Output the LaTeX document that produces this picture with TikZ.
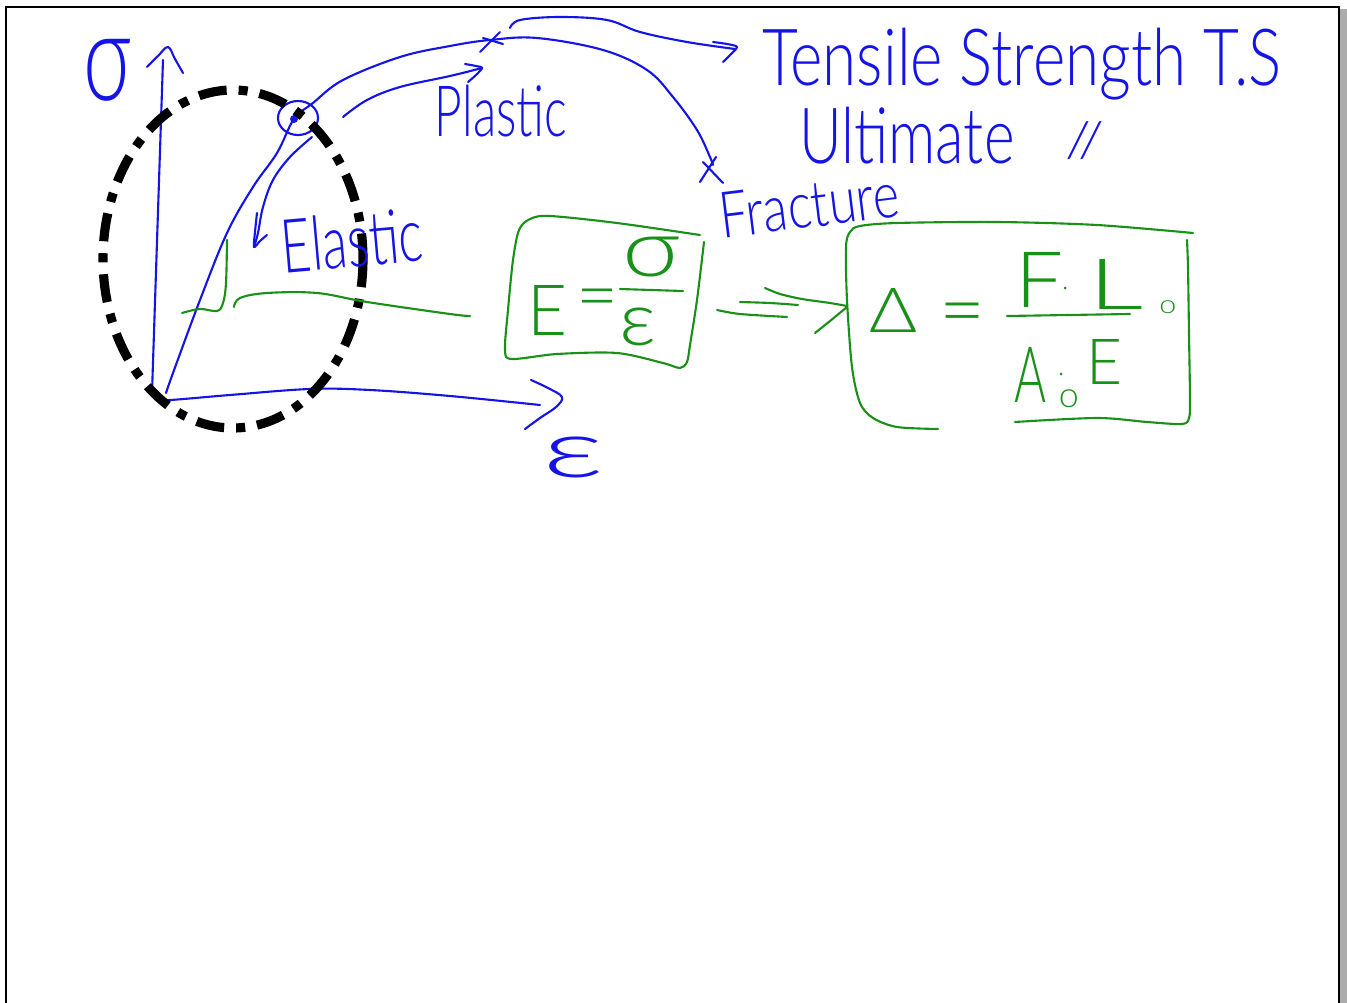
\documentclass[tikz,border=0pt]{standalone}
\usepackage{graphicx}
\usepackage{fontspec}
\IfFontExistsTF{Lato Light}{\setmainfont{Lato Light}}{\setmainfont{Lato}}
\definecolor{hwblue}{RGB}{20,20,230}
\definecolor{hwgreen}{RGB}{25,145,25}
\newcommand{\hwtext}[3]{\resizebox*{#1cm}{#2cm}{#3}}
\newcommand{\hweq}[1]{\resizebox{#1cm}{!}{=}}
\tikzset{
  blu/.style={draw=hwblue, line width=0.6pt, line cap=round, line join=round},
  grn/.style={draw=hwgreen, line width=0.6pt, line cap=round, line join=round},
  lbl/.style={inner sep=0pt, anchor=center, text=hwblue},
  glbl/.style={inner sep=0pt, anchor=center, text=hwgreen},
  dashring/.style={draw=black, line width=2.6pt, dash pattern=on 8pt off 3.4pt on 2.6pt off 3.4pt}
}
\begin{document}
\begin{tikzpicture}[x=0.01cm, y=-0.01cm]
\useasboundingbox (0,0) rectangle (1347,1003);
% frame
\fill[gray!65] (1340,9) rectangle (1347,1003);
\draw[black, line width=0.7pt] (6,1003) -- (6,7) -- (1339,7) -- (1339,1003);

% coordinates
\coordinate (O) at (152,393);
\coordinate (ytop) at (163,60);
\coordinate (xend) at (540,405);
\coordinate (yieldpt) at (294,119);
\coordinate (uts) at (490,40);

% axes
\draw[blu] (O) -- (ytop);
\draw[blu] plot[smooth, tension=0.6] coordinates {(147,67) (158,56) (168,47) (175,59) (183,73)};
\draw[blu] plot[smooth, tension=0.6] coordinates {(O) (156,399) (170,400) (230,395) (310,389) (370,390) (450,396) (xend)};
\draw[blu] plot[smooth, tension=0.6] coordinates {(531,380) (548,388) (562,397) (556,407) (540,418) (525,429)};

% stress-strain curve
\draw[blu] plot[smooth, tension=0.6] coordinates {(166,393) (173,373) (200,300) (227,233) (253,187) (277,153) (yieldpt) (313,103) (343,80) (400,57) (450,46) (uts) (537,38) (603,50) (647,70) (673,97) (697,130) (710,157) (713,165)};
\draw[blu] (480,52) -- (500,32) (483,38) -- (503,44);
\draw[blu] (700,182) -- (716,157) (703,162) -- (723,183);

% yield point marker
\draw[blu] (298,118) ellipse [x radius=20, y radius=17];
\fill[hwblue] (yieldpt) circle [radius=4];

% arrows to labels
\draw[blu] plot[smooth, tension=0.6] coordinates {(312,137) (290,157) (273,180) (263,207) (258,233) (254,247)};
\draw[blu] plot[smooth, tension=0.5] coordinates {(257,213) (255,232) (254,247) (260,241) (267,235)};
\draw[blu] plot[smooth, tension=0.6] coordinates {(343,117) (367,100) (400,87) (450,76) (482,68)};
\draw[blu] plot[smooth, tension=0.5] coordinates {(465,64) (476,66) (482,68) (476,75) (468,82)};
\draw[blu] plot[smooth, tension=0.6] coordinates {(510,28) (520,20) (560,17) (607,20) (640,32) (687,42) (735,49)};
\draw[blu] plot[smooth, tension=0.5] coordinates {(713,42) (727,44) (737,47) (730,55) (723,62)};

% dash-dot ring
\draw[dashring] (233,259) ellipse [x radius=130, y radius=169];

% green slope mark and line
\draw[grn] plot[smooth, tension=0.6] coordinates {(227,240) (226,283) (223,303) (217,311) (200,309) (182,313)};
\draw[grn] plot[smooth, tension=0.6] coordinates {(234,307) (240,298) (267,293) (317,293) (367,302) (450,314) (470,316)};

% box 1
\draw[grn] plot[smooth, tension=0.5] coordinates {(700,235) (617,223) (550,216) (530,219) (519,230) (513,260) (508,310) (505,350) (512,359) (557,354) (617,353) (663,363) (680,368) (687,362) (690,345) (697,300) (704,242)};
\node[glbl] (f1E) at (548,310) {\hwtext{0.40}{0.50}{E}};
\node[glbl] (f1eq) at (598,305) {\hweq{0.42}};
\node[glbl] (f1num) at (652,257) {\hwtext{0.58}{0.40}{σ}};
\node[glbl] (f1den) at (638,327) {\hwtext{0.37}{0.38}{ε}};
\draw[grn] (620,289) -- (683,291);

% implication arrow
\draw[grn] plot[smooth, tension=0.5] coordinates {(717,310) (740,314) (787,317)};
\draw[grn] plot[smooth, tension=0.5] coordinates {(740,302) (770,303) (798,305)};
\draw[grn] plot[smooth, tension=0.5] coordinates {(765,288) (780,294) (802,299) (830,303) (847,306)};
\draw[grn] plot[smooth, tension=0.5] coordinates {(815,333) (830,321) (847,307)};

% box 2
\draw[grn] plot[smooth, tension=0.5] coordinates {(1193,233) (1097,225) (997,222) (897,223) (860,226) (850,232) (846,247) (847,300) (852,367) (860,403) (873,418) (897,427) (938,429)};
\draw[grn] plot[smooth, tension=0.5] coordinates {(1187,240) (1188,267) (1189,333) (1190,400) (1189,418) (1182,424) (1147,422) (1097,418) (1015,422)};
\node[glbl] (f2D) at (894,310) {\hwtext{0.48}{0.44}{Δ}};
\node[glbl] (f2eq) at (963,320) {\hweq{0.46}};
\draw[grn] (1007,316) -- (1130,314);
\node[glbl] (f2F) at (1040,280) {\hwtext{0.48}{0.55}{F}};
\fill[hwgreen] (1065,288) circle [radius=1.5];
\node[glbl] (f2L) at (1116,284) {\hwtext{0.55}{0.50}{L}};
\node[glbl] (f2o) at (1168,307) {\hwtext{0.17}{0.13}{o}};
\node[glbl] (f2A) at (1031,375) {\hwtext{0.32}{0.55}{A}};
\fill[hwgreen] (1061,374) circle [radius=1.5];
\node[glbl] (f2o2) at (1069,399) {\hwtext{0.20}{0.18}{o}};
\node[glbl] (f2E) at (1105,362) {\hwtext{0.36}{0.45}{E}};

% labels
\node[lbl] (sig) at (108,70) {\hwtext{0.48}{0.62}{σ}};
\node[lbl] (plastic) at (501,111) {\hwtext{1.32}{0.52}{Plastic}};
\node[lbl, rotate=5] (elastic) at (352,240) {\hwtext{1.42}{0.55}{Elastic}};
\node[lbl] (ts) at (1022,64) {\hwtext{5.19}{0.72}{Tensile Strength T.S}};
\node[lbl] (ult) at (907,136) {\hwtext{2.15}{0.57}{Ultimate}};
\node[lbl] (ditto) at (1085,141) {\hwtext{0.39}{0.38}{//}};
\node[lbl, rotate=7] (fract) at (809,205) {\hwtext{1.80}{0.46}{Fracture}};
\node[lbl] (eps) at (574,457) {\hwtext{0.62}{0.41}{ε}};
\end{tikzpicture}
\end{document}
